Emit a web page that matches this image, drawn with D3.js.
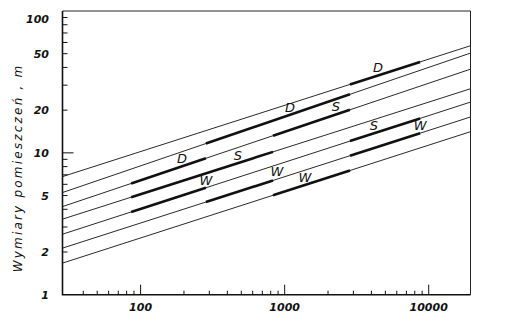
<!DOCTYPE html>
<html>
<head>
<meta charset="utf-8">
<script src="https://cdn.jsdelivr.net/npm/d3@7/dist/d3.min.js"></script>
<style>
  body { margin: 0; background: #fff; }
  text { font-family: "DejaVu Sans", sans-serif; font-style: italic; fill: #111; }
</style>
</head>
<body>
<svg id="chart" width="518" height="318"></svg>
<script>
// axis extents and ticks
const xDomain = [28.7, 19500];
const yDomain = [1, 100];
const xMajor = [100, 1000, 10000];
const xMinor = [40, 50, 60, 70, 80, 90, 200, 300, 400, 500, 600, 700, 800, 900,
                2000, 3000, 4000, 5000, 6000, 7000, 8000, 9000];
const yLabels = [1, 2, 5, 10, 20, 50, 100];
const yMinor = [2, 3, 4, 5, 6, 7, 8, 9, 20, 30, 40, 50, 60, 70, 80, 90];

// the seven thin lines: value at left edge and at right edge
const lineStart = [6.80, 5.25, 4.18, 3.41, 2.67, 2.13, 1.67];
const lineEnd   = [56.9, 50.5, 38.9, 28.3, 22.8, 17.9, 14.1];

// thick parts (line index, from, to) and their letters
const segLine  = [2, 3, 4, 5, 1, 2, 6, 0, 4, 5];
const segFrom  = [86, 86, 86, 284, 284, 830, 830, 2840, 2840, 2840];
const segTo    = [284, 830, 284, 830, 2840, 2840, 2840, 8710, 8710, 8710];
const segText  = ['D', 'S', 'W', 'W', 'D', 'S', 'W', 'D', 'S', 'W'];
const segLabelAt = [194, 474, 284, 885, 1089, 2270, 1383, 4450, 4170, 8710];

const svg = d3.select('#chart');

const x = d3.scaleLog().domain(xDomain).range([62.5, 470.5]);
const y = d3.scaleLog().domain(yDomain).range([294.7, 11]);

// value of line i at position v (straight line on log-log paper)
function lineAt(i, v) {
    const t = (Math.log(v) - Math.log(xDomain[0])) / (Math.log(xDomain[1]) - Math.log(xDomain[0]));
    return Math.exp(Math.log(lineStart[i]) + t * (Math.log(lineEnd[i]) - Math.log(lineStart[i])));
}

const line = d3.line().x(d => x(d[0])).y(d => y(d[1]));

// thin lines
svg.append('g').selectAll('path')
    .data(lineStart.map((s, i) => i))
    .enter().append('path')
    .attr('d', i => line([[xDomain[0], lineStart[i]], [xDomain[1], lineEnd[i]]]))
    .attr('fill', 'none')
    .attr('stroke', '#111')
    .attr('stroke-width', 0.9);

// thick parts
svg.append('g').selectAll('path')
    .data(segLine.map((l, k) => k))
    .enter().append('path')
    .attr('d', k => line([[segFrom[k], lineAt(segLine[k], segFrom[k])],
                          [segTo[k], lineAt(segLine[k], segTo[k])]]))
    .attr('fill', 'none')
    .attr('stroke', '#111')
    .attr('stroke-width', 2.6);

// letters
svg.append('g').selectAll('text')
    .data(segText.map((t, k) => k))
    .enter().append('text')
    .attr('x', k => x(segLabelAt[k]))
    .attr('y', k => y(lineAt(segLine[k], segLabelAt[k])) - 3)
    .attr('text-anchor', 'middle')
    .style('font-size', '13px')
    .text(k => segText[k]);

// frame
const [x0, x1] = x.range();
const [yb, yt] = y.range();
svg.append('path')
    .attr('d', `M${x0},${yt}H${x1}V${yb}`)
    .attr('fill', 'none').attr('stroke', '#222').attr('stroke-width', 1);
svg.append('path')
    .attr('d', `M${x0},${yt}V${yb}H${x1}`)
    .attr('fill', 'none').attr('stroke', '#111').attr('stroke-width', 1.6);

// x ticks (inward)
const xt = svg.append('g').attr('stroke', '#111').attr('stroke-width', 1);
xt.selectAll('.minor').data(xMinor).enter().append('line')
    .attr('x1', d => x(d)).attr('x2', d => x(d))
    .attr('y1', yb).attr('y2', yb - 4);
xt.selectAll('.major').data(xMajor).enter().append('line')
    .attr('x1', d => x(d)).attr('x2', d => x(d))
    .attr('y1', yb).attr('y2', yb - 10);
svg.append('g').selectAll('text').data(xMajor).enter().append('text')
    .attr('x', d => x(d)).attr('y', yb + 16)
    .attr('text-anchor', 'middle')
    .style('font-size', '11px').style('font-weight', 'bold')
    .text(d => d);

// y ticks (inward)
const yt2 = svg.append('g').attr('stroke', '#111').attr('stroke-width', 1);
yt2.selectAll('.minor').data(yMinor).enter().append('line')
    .attr('x1', x0).attr('x2', x0 + 5)
    .attr('y1', d => y(d)).attr('y2', d => y(d));
yt2.append('line')
    .attr('x1', x0).attr('x2', x0 + 11)
    .attr('y1', y(10)).attr('y2', y(10));
svg.append('g').selectAll('text').data(yLabels).enter().append('text')
    .attr('x', 49)
    .attr('y', d => y(d) + (d === 100 ? 12 : 4))
    .attr('text-anchor', 'end')
    .style('font-size', '11px').style('font-weight', 'bold')
    .text(d => d);

// y title
svg.append('text')
    .attr('transform', 'translate(22,168) rotate(-90)')
    .attr('text-anchor', 'middle')
    .style('font-size', '12px')
    .style('letter-spacing', '2.2px')
    .text('Wymiary  pomieszczeń , m');
</script>
</body>
</html>
